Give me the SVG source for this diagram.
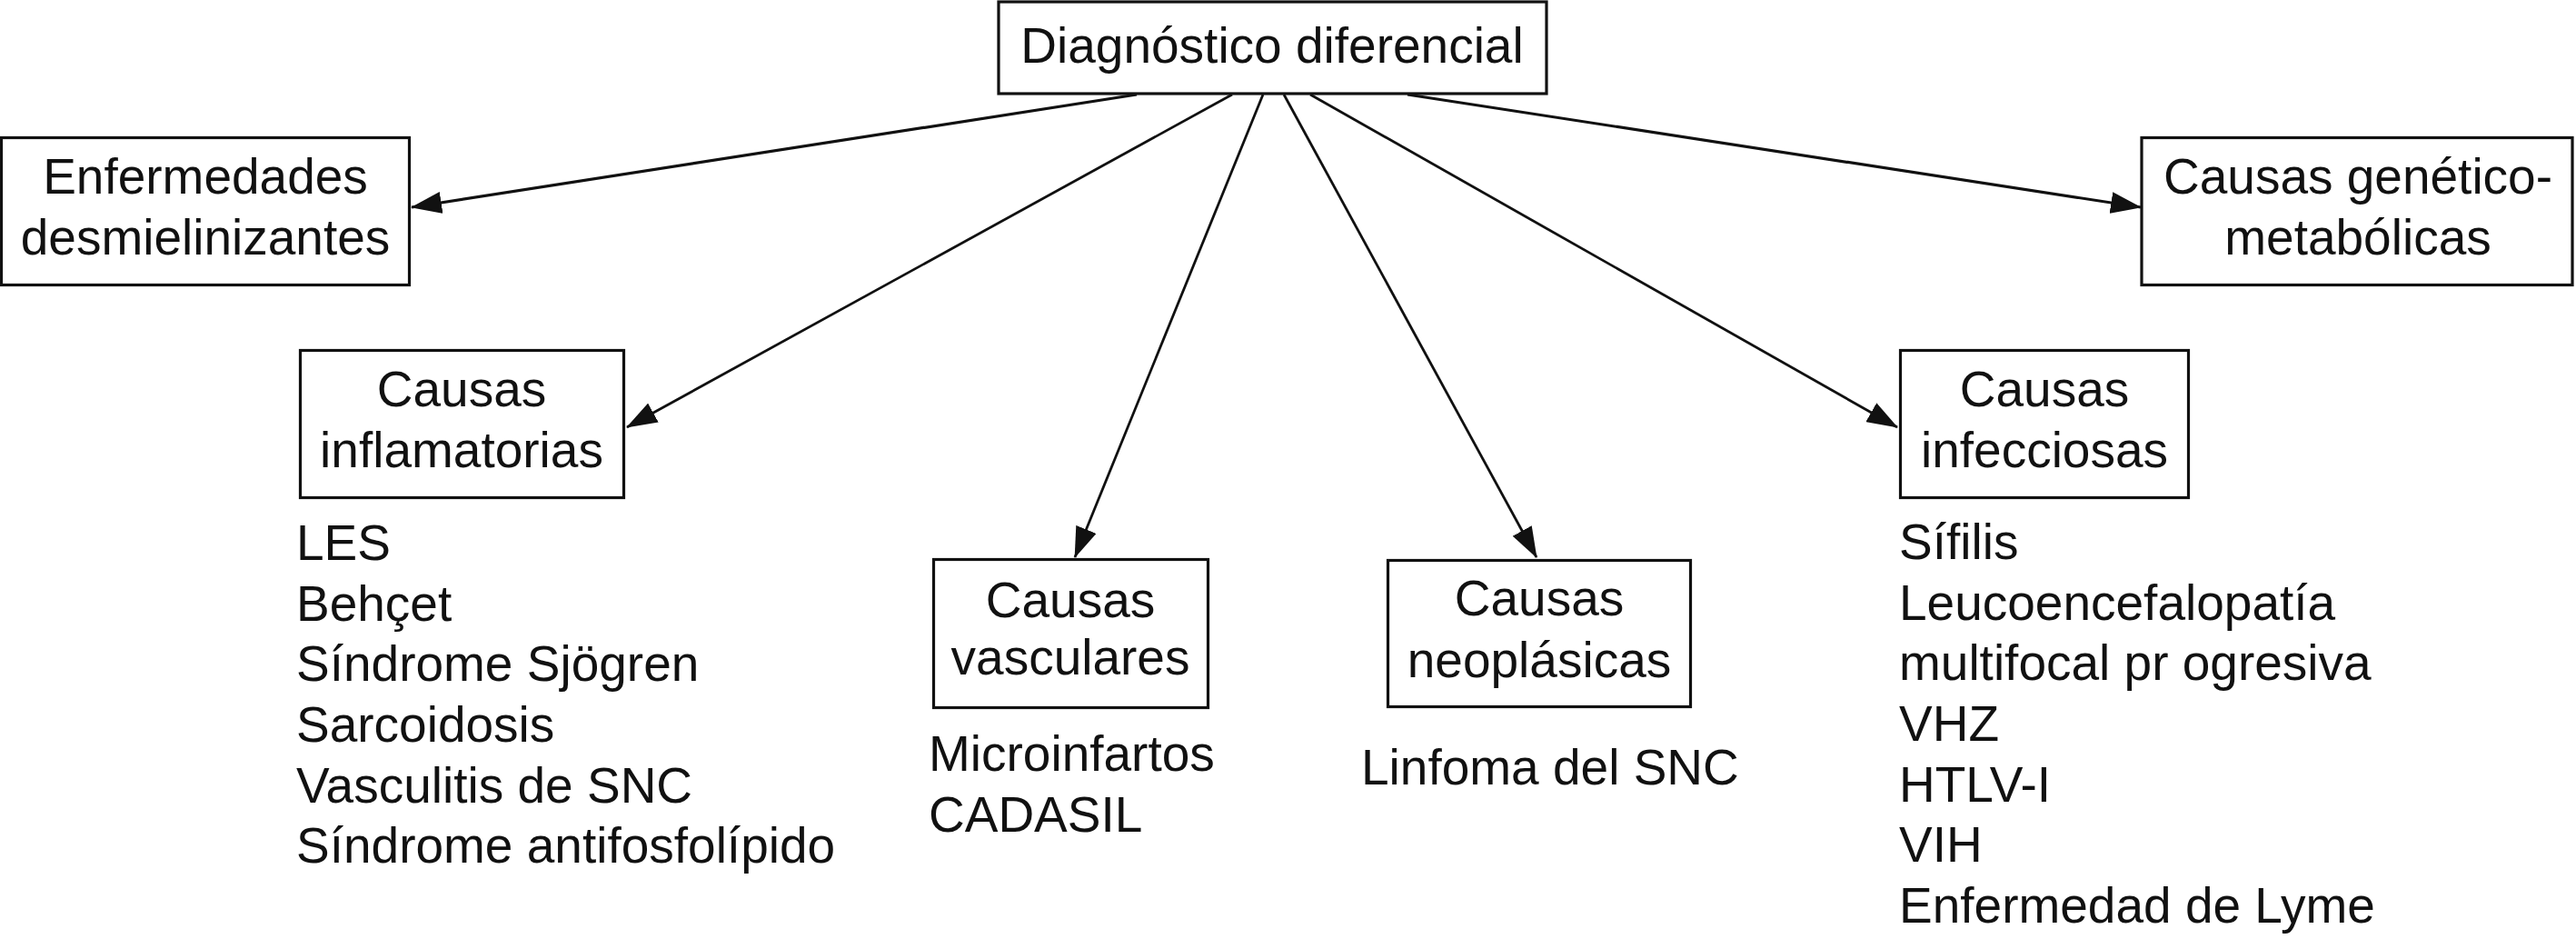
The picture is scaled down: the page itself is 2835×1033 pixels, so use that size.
<svg xmlns="http://www.w3.org/2000/svg" width="2835" height="1033" viewBox="0 0 2835 1033">
<style>
.box{fill:#fff;stroke:#111;stroke-width:3.2}
.t{font-family:"Liberation Sans",Arial,sans-serif;font-size:55px;fill:#111}
.c{text-anchor:middle}
.ln{stroke:#111;fill:none}
</style>
<defs>
<marker id="ah" markerUnits="userSpaceOnUse" markerWidth="34" markerHeight="24" refX="33" refY="12" orient="auto">
<path d="M0,0 L34,12 L0,24 z" fill="#111"/>
</marker>
</defs>
<rect width="2835" height="1033" fill="#fff"/>
<g id="connectors">
<line class="ln" stroke-width="3.2" x1="1251" y1="104" x2="453" y2="228" marker-end="url(#ah)"/>
<line class="ln" stroke-width="2.8" x1="1356" y1="104" x2="690" y2="470" marker-end="url(#ah)"/>
<line class="ln" stroke-width="2.8" x1="1390" y1="104" x2="1183" y2="613" marker-end="url(#ah)"/>
<line class="ln" stroke-width="2.8" x1="1413" y1="104" x2="1691" y2="613" marker-end="url(#ah)"/>
<line class="ln" stroke-width="2.8" x1="1442" y1="104" x2="2088" y2="470" marker-end="url(#ah)"/>
<line class="ln" stroke-width="3.2" x1="1549" y1="104" x2="2356" y2="228" marker-end="url(#ah)"/>
</g>
<g id="root">
<rect class="box" x="1099" y="2" width="603" height="101"/>
<text class="t c" x="1400" y="69">Diagnóstico diferencial</text>
</g>
<g id="desmielinizantes">
<rect class="box" x="1.5" y="151.5" width="449" height="162"/>
<text class="t c" x="226" y="213">Enfermedades</text>
<text class="t c" x="226" y="280">desmielinizantes</text>
</g>
<g id="genetico">
<rect class="box" x="2357" y="151.5" width="474" height="162"/>
<text class="t c" x="2595" y="213">Causas genético-</text>
<text class="t c" x="2595" y="280">metabólicas</text>
</g>
<g id="inflamatorias">
<rect class="box" x="330.5" y="385.5" width="356" height="162"/>
<text class="t c" x="508" y="447">Causas</text>
<text class="t c" x="508" y="514">inflamatorias</text>
<text class="t" x="326" y="616">LES</text>
<text class="t" x="326" y="683">Behçet</text>
<text class="t" x="326" y="749">Síndrome Sjögren</text>
<text class="t" x="326" y="816">Sarcoidosis</text>
<text class="t" x="326" y="883">Vasculitis de SNC</text>
<text class="t" x="326" y="949">Síndrome antifosfolípido</text>
</g>
<g id="vasculares">
<rect class="box" x="1027.5" y="615.5" width="302" height="163"/>
<text class="t c" x="1178" y="679">Causas</text>
<text class="t c" x="1178" y="742">vasculares</text>
<text class="t" x="1022" y="848">Microinfartos</text>
<text class="t" x="1022" y="915">CADASIL</text>
</g>
<g id="neoplasicas">
<rect class="box" x="1527.5" y="616.5" width="333" height="161"/>
<text class="t c" x="1694" y="677">Causas</text>
<text class="t c" x="1694" y="745">neoplásicas</text>
<text class="t" x="1498" y="863">Linfoma del SNC</text>
</g>
<g id="infecciosas">
<rect class="box" x="2091.5" y="385.5" width="317" height="162"/>
<text class="t c" x="2250" y="447">Causas</text>
<text class="t c" x="2250" y="514">infecciosas</text>
<text class="t" x="2090" y="615">Sífilis</text>
<text class="t" x="2090" y="682">Leucoencefalopatía</text>
<text class="t" x="2090" y="748">multifocal pr ogresiva</text>
<text class="t" x="2090" y="815">VHZ</text>
<text class="t" x="2090" y="882">HTLV-I</text>
<text class="t" x="2090" y="948">VIH</text>
<text class="t" x="2090" y="1015">Enfermedad de Lyme</text>
</g>
</svg>
